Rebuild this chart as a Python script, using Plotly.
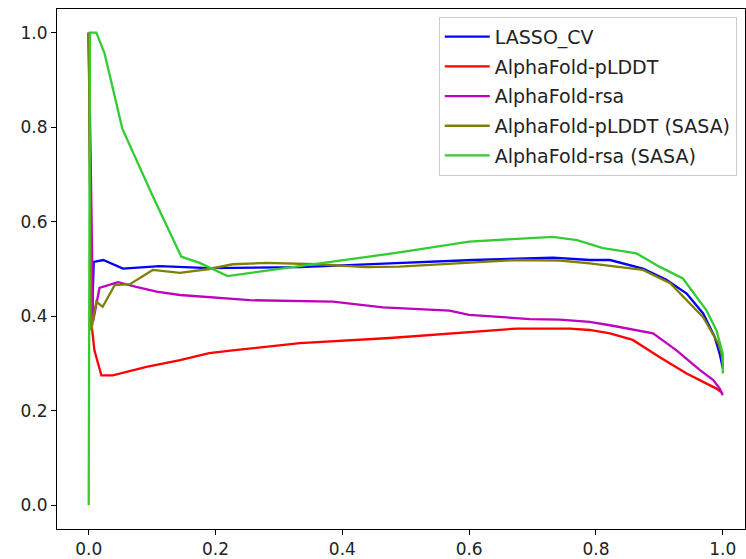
import plotly.graph_objects as go

# LASSO_CV
lasso_x = [0.0, 0.005, 0.008, 0.023, 0.054, 0.112, 0.19, 0.333, 0.475, 0.606, 0.732, 0.79, 0.822, 0.874, 0.911, 0.943, 0.969, 0.987, 0.995, 1.0]
lasso_y = [1.0, 0.39, 0.515, 0.519, 0.501, 0.506, 0.502, 0.504, 0.512, 0.519, 0.524, 0.519, 0.519, 0.501, 0.477, 0.448, 0.406, 0.357, 0.321, 0.29]

# AlphaFold-pLDDT
plddt_x = [0.0, 0.004, 0.009, 0.02, 0.038, 0.091, 0.144, 0.19, 0.227, 0.333, 0.475, 0.58, 0.675, 0.759, 0.79, 0.822, 0.858, 0.90, 0.943, 0.99, 1.0]
plddt_y = [1.0, 0.39, 0.328, 0.275, 0.275, 0.293, 0.307, 0.322, 0.328, 0.343, 0.354, 0.364, 0.374, 0.374, 0.371, 0.364, 0.35, 0.314, 0.279, 0.247, 0.237]

# AlphaFold-rsa
rsa_x = [0.0, 0.007, 0.017, 0.046, 0.075, 0.107, 0.144, 0.19, 0.254, 0.385, 0.464, 0.569, 0.60, 0.696, 0.743, 0.79, 0.822, 0.89, 0.927, 0.964, 0.985, 0.995, 1.0]
rsa_y = [1.0, 0.39, 0.46, 0.472, 0.462, 0.452, 0.445, 0.44, 0.434, 0.431, 0.419, 0.412, 0.403, 0.394, 0.393, 0.388, 0.381, 0.364, 0.328, 0.286, 0.265, 0.247, 0.233]

# AlphaFold-pLDDT (SASA)
plddt_sasa_x = [0.0, 0.004, 0.012, 0.022, 0.041, 0.065, 0.101, 0.144, 0.19, 0.227, 0.28, 0.36, 0.438, 0.49, 0.675, 0.743, 0.79, 0.874, 0.917, 0.969, 0.993, 0.998, 1.0]
plddt_sasa_y = [1.0, 0.37, 0.431, 0.42, 0.466, 0.468, 0.498, 0.492, 0.50, 0.51, 0.513, 0.51, 0.504, 0.505, 0.519, 0.518, 0.512, 0.498, 0.47, 0.398, 0.342, 0.321, 0.30]

# AlphaFold-rsa (SASA)
rsa_sasa_x = [0.0, 0.002, 0.012, 0.025, 0.053, 0.10, 0.146, 0.175, 0.219, 0.49, 0.60, 0.732, 0.77, 0.811, 0.864, 0.90, 0.937, 0.958, 0.974, 0.99, 1.0, 1.0]
rsa_sasa_y = [0.0, 1.0, 1.0, 0.956, 0.797, 0.657, 0.526, 0.513, 0.485, 0.535, 0.558, 0.568, 0.561, 0.544, 0.533, 0.505, 0.48, 0.441, 0.413, 0.37, 0.321, 0.279]

series = [
    ("LASSO_CV", lasso_x, lasso_y, "#0000ff"),
    ("AlphaFold-pLDDT", plddt_x, plddt_y, "#ff0000"),
    ("AlphaFold-rsa", rsa_x, rsa_y, "#bf00bf"),
    ("AlphaFold-pLDDT (SASA)", plddt_sasa_x, plddt_sasa_y, "#808000"),
    ("AlphaFold-rsa (SASA)", rsa_sasa_x, rsa_sasa_y, "#33cc33"),
]

fig = go.Figure()
for i, (name, xs, ys, col) in enumerate(series):
    fig.add_trace(go.Scatter(x=xs, y=ys, mode="lines", name=name,
                             legendgroup=f"g{i}",
                             line=dict(color=col, width=2.3)))

tickvals = [0.0, 0.2, 0.4, 0.6, 0.8, 1.0]
axis_common = dict(showgrid=False, zeroline=False, showline=True, mirror=True,
                   linecolor="black", linewidth=1, ticks="outside", ticklen=5,
                   tickcolor="black", tickvals=tickvals, tickformat=".1f",
                   tickfont=dict(family="DejaVu Sans", size=17, color="#222222"))

fig.update_layout(
    width=746, height=559,
    margin=dict(l=57, r=1, t=9, b=30),
    paper_bgcolor="white", plot_bgcolor="white",
    font=dict(family="DejaVu Sans", size=17, color="#222222"),
    xaxis=dict(range=[-0.05, 1.035], **axis_common),
    yaxis=dict(range=[-0.05, 1.05], **axis_common),
    legend=dict(x=0.988, y=0.985, xanchor="right", yanchor="top",
                bordercolor="#cccccc", borderwidth=1, bgcolor="rgba(255,255,255,0.8)",
                traceorder="grouped", tracegroupgap=2, itemwidth=45,
                font=dict(family="DejaVu Sans", size=19, color="#222222")),
    showlegend=True,
)

fig.write_html("out.html")
